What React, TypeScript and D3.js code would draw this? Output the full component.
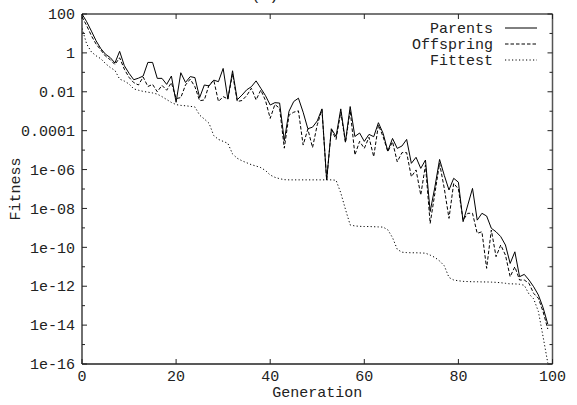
import React from "react";
import * as d3 from "d3";

// log10 of fitness per generation
const generations = d3.range(0, 100);
const parentsExp = [
  2.0, 1.6, 1.12, 0.62, 0.22, -0.07, -0.24, -0.52, 0.08, -0.66,
  -1.05, -1.38, -1.3, -1.19, -0.49, -0.49, -1.31, -1.31, -1.62, -1.19,
  -2.54, -1.02, -1.52, -1.22, -1.27, -2.3, -1.65, -1.7, -1.4, -1.48,
  -0.8, -2.38, -0.92, -2.41, -2.17, -1.9, -1.74, -1.44, -1.82, -2.2,
  -2.68, -2.56, -2.58, -4.52, -3.0, -2.5, -2.33, -3.05, -3.9, -3.82,
  -3.5, -2.88, -6.54, -3.9, -4.3, -2.88, -4.57, -2.76, -4.3, -4.12,
  -4.55, -4.19, -4.31, -3.59, -4.14, -5.05, -4.4, -4.91, -4.79, -4.45,
  -5.68, -5.37, -5.94, -5.51, -8.16, -6.9, -5.48, -6.3, -7.05, -6.45,
  -6.65, -8.68, -7.82, -6.97, -8.6, -8.25, -8.39, -9.02, -9.2, -9.45,
  -9.88, -10.83, -10.23, -11.51, -11.39, -11.68, -12.03, -12.45, -13.1, -13.95,
];
const offspringExp = [
  1.86, 1.4, 0.88, 0.45, 0.15, -0.17, -0.35, -0.6, -0.25, -0.84,
  -1.26, -1.53, -1.65, -1.24, -1.73, -1.62, -2.0, -1.67, -1.92, -1.53,
  -2.35, -2.3, -1.65, -1.35, -1.74, -2.46, -2.42, -1.65, -1.4, -2.5,
  -2.25, -2.37, -1.08, -2.5, -2.45, -2.2, -1.82, -2.42, -1.91, -2.45,
  -3.37, -2.65, -2.85, -4.9, -3.2, -3.05, -2.98, -4.74, -3.92, -4.87,
  -3.7, -2.92, -6.54, -3.95, -4.45, -3.05, -4.62, -2.95, -5.25, -4.55,
  -4.91, -4.34, -5.34, -3.71, -4.31, -5.08, -4.57, -5.6, -5.13, -5.13,
  -6.37, -6.02, -7.31, -5.77, -8.77, -7.22, -5.68, -6.97, -8.51, -6.71,
  -7.0, -8.6, -8.25, -8.25, -9.28, -9.2, -11.08, -9.11, -10.48, -9.88,
  -10.4, -11.51, -11.0, -11.68, -11.68, -11.85, -12.37, -12.62, -13.31, -14.2,
];
const fittestExp = [
  1.26, 0.45, 0.05, -0.15, -0.3, -0.55, -0.75, -0.9, -1.35, -1.45,
  -1.6, -1.85, -1.92, -1.98, -2.02, -2.06, -2.12, -2.25, -2.4, -2.55,
  -2.66, -2.7, -2.72, -2.75, -2.78, -3.2, -3.4, -3.62, -4.25, -4.45,
  -4.55, -4.65, -5.2, -5.42, -5.55, -5.65, -5.75, -5.82, -5.9, -6.05,
  -6.28, -6.4, -6.47, -6.52, -6.53, -6.53, -6.53, -6.53, -6.53, -6.53,
  -6.53, -6.53, -6.53, -6.53, -6.55, -7.2, -8.05, -8.85, -8.9, -8.92,
  -8.93, -8.93, -8.94, -8.95, -8.96, -9.1, -9.5, -10.1, -10.25, -10.27,
  -10.28, -10.28, -10.29, -10.3, -10.4, -10.52, -10.7, -10.95, -11.55, -11.68,
  -11.72, -11.75, -11.76, -11.77, -11.77, -11.78, -11.78, -11.79, -11.8, -11.82,
  -11.85, -11.88, -11.88, -11.9, -11.95, -12.4, -12.65, -13.3, -14.6, -15.95,
];

const xTicks = [0, 20, 40, 60, 80, 100];
const yMajorTicks = [1e2, 1, 1e-2, 1e-4, 1e-6, 1e-8, 1e-10, 1e-12, 1e-14, 1e-16];
const yMajorLabels = ["100", "1", "0.01", "0.0001", "1e-06", "1e-08", "1e-10", "1e-12", "1e-14", "1e-16"];
const yMinorTicks = [1e1, 1e-1, 1e-3, 1e-5, 1e-7, 1e-9, 1e-11, 1e-13, 1e-15];
const seriesNames = ["Parents", "Offspring", "Fittest"];

const W = 577, H = 405;
const L = 82, R = 552.5, T = 14, B = 364;
const FONT = "'Liberation Mono', 'DejaVu Sans Mono', monospace";

export default function App() {
  const x = d3.scaleLinear().domain([0, 100]).range([L, R]);
  const y = d3.scaleLog().domain([1e-16, 100]).range([B, T]);
  const line = d3
    .line<number>()
    .x((_, i) => x(generations[i]))
    .y((e) => y(Math.pow(10, e)));
  const series = [
    { name: seriesNames[0], d: parentsExp, dash: "none" },
    { name: seriesNames[1], d: offspringExp, dash: "3.5,2" },
    { name: seriesNames[2], d: fittestExp, dash: "1.2,2.3" },
  ];
  const legendY = [28, 44, 60];
  return (
    <svg
      width={W}
      height={H}
      style={{ position: "absolute", left: 0, top: 0, background: "#fff" }}
      fontFamily={FONT}
    >
      <rect x={0} y={0} width={W} height={H} fill="#fff" />
      <text x={265} y={0} textAnchor="middle" fontSize={15} fill="#222">(c)</text>
      <defs>
        <clipPath id="plot">
          <rect x={L} y={T - 2} width={R - L + 2} height={B - T + 2} />
        </clipPath>
      </defs>
      {/* frame */}
      <line x1={L} y1={T} x2={R} y2={T} stroke="#777" strokeWidth={2} />
      <line x1={R} y1={T} x2={R} y2={B} stroke="#555" strokeWidth={1.5} />
      <line x1={L} y1={T} x2={L} y2={B} stroke="#222" strokeWidth={1.3} />
      <line x1={L} y1={B} x2={R} y2={B} stroke="#222" strokeWidth={1.3} />
      {/* x ticks */}
      {xTicks.map((t) => (
        <g key={"x" + t}>
          <line x1={x(t)} x2={x(t)} y1={B} y2={B - 5} stroke="#222" />
          <line x1={x(t)} x2={x(t)} y1={T} y2={T + 5} stroke="#222" />
          <text x={x(t)} y={B + 17} textAnchor="middle" fontSize={15} fill="#222">
            {t}
          </text>
        </g>
      ))}
      {/* y ticks */}
      {yMajorTicks.map((t, i) => (
        <g key={"y" + i}>
          <line x1={L} x2={L + 5} y1={y(t)} y2={y(t)} stroke="#222" />
          <line x1={R} x2={R - 5} y1={y(t)} y2={y(t)} stroke="#222" />
          <text x={L - 7} y={y(t)} dy="0.35em" textAnchor="end" fontSize={15} fill="#222">
            {yMajorLabels[i]}
          </text>
        </g>
      ))}
      {yMinorTicks.map((t, i) => (
        <g key={"ym" + i}>
          <line x1={L} x2={L + 3} y1={y(t)} y2={y(t)} stroke="#222" />
          <line x1={R} x2={R - 3} y1={y(t)} y2={y(t)} stroke="#222" />
        </g>
      ))}
      {/* axis titles */}
      <text x={(L + R) / 2} y={397} textAnchor="middle" fontSize={15} fill="#222">
        Generation
      </text>
      <text
        transform={`translate(20,${(T + B) / 2}) rotate(-90)`}
        textAnchor="middle"
        fontSize={15}
        fill="#222"
      >
        Fitness
      </text>
      {/* series */}
      <g clipPath="url(#plot)">
        {series.map((s) => (
          <path
            key={s.name}
            d={line(s.d) || ""}
            fill="none"
            stroke="#000"
            strokeWidth={1}
            strokeDasharray={s.dash}
          />
        ))}
      </g>
      {/* legend */}
      {series.map((s, i) => (
        <g key={"lg" + s.name}>
          <text x={493} y={legendY[i]} dy="0.35em" textAnchor="end" fontSize={15} fill="#222">
            {s.name}
          </text>
          <line
            x1={505}
            x2={537}
            y1={legendY[i]}
            y2={legendY[i]}
            stroke="#000"
            strokeWidth={1}
            strokeDasharray={s.dash}
          />
        </g>
      ))}
    </svg>
  );
}
